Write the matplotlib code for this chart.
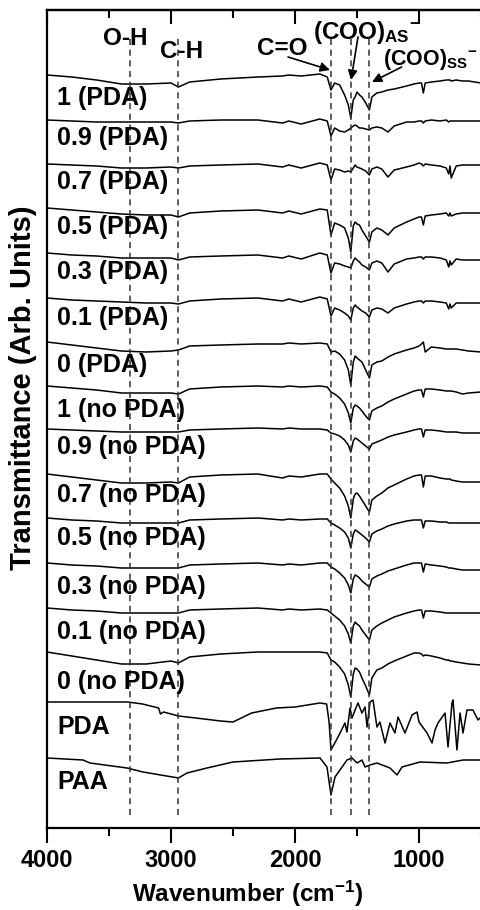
import numpy as np
import matplotlib
matplotlib.use('Agg')
import matplotlib.pyplot as plt
from matplotlib.ticker import MultipleLocator

plt.rcParams['font.family'] = ['Liberation Sans', 'DejaVu Sans']
plt.rcParams['font.weight'] = 'bold'
plt.rcParams['mathtext.fontset'] = 'custom'
plt.rcParams['mathtext.rm'] = 'Liberation Sans:bold'
plt.rcParams['mathtext.bf'] = 'Liberation Sans:bold'
plt.rcParams['mathtext.default'] = 'rm'

# shared wavenumber grid (cm-1) for the blend spectra
wn = [4000, 3800, 3600, 3400, 3200, 3000, 2940, 2850, 2600, 2300,
      2100, 2050, 1950, 1800, 1740, 1710, 1680, 1640, 1600, 1570,
      1550, 1530, 1515, 1500, 1480, 1460, 1430, 1400, 1380, 1340,
      1300, 1250, 1200, 1100, 1040, 1000, 980, 965, 950, 900,
      830, 780, 760, 750, 740, 700, 650, 600, 500]

# drop of each spectrum below its own start value (arb. units)
d_1_pda = [0, 2, 5, 9, 9, 8, 12, 7, 4, 2, 1, 0, 1, -1, 2, 15, 8, 10, 20, 30,
           43, 25, 22, 17, 20, 22, 28, 35, 22, 18, 17, 15, 14, 11, 9, 8, 8, 18, 8, 7,
           6, 5, 5, 5, 6, 5, 6, 6, 8]
d_09_pda = [0, 1, 2, 2, 2, 2, 3, 1, 0, 0, 3, 1, 4, -1, 1, 16, 8, 11, 12, 10,
            8, 6, 5, 6, 8, 8, 9, 10, 8, 7, 8, 12, 6, 2, 2, 1, 1, 3, 1, 0,
            1, 0, 2, 1, 1, 1, 1, 1, 1]
d_07_pda = [0, 1, 2, 4, 4, 3, 4, 2, 1, 0, 3, 1, 4, -1, 1, 16, 5, 6, 8, 7,
            8, 4, 1, 3, 4, 5, 7, 11, 5, 3, 5, 13, 6, 3, 1, -1, 0, 2, 0, 1,
            2, 4, 10, 2, 14, 2, 1, 1, 1]
d_05_pda = [0, 2, 4, 6, 7, 7, 9, 5, 3, 2, 5, 3, 6, 1, 2, 27, 15, 17, 20, 30,
            44, 18, 14, 16, 17, 22, 28, 34, 24, 20, 22, 27, 20, 14, 11, 9, 9, 17, 8, 7,
            6, 5, 8, 5, 8, 6, 5, 5, 5]
d_03_pda = [0, 2, 3, 5, 5, 5, 7, 4, 3, 2, 5, 3, 6, 0, 2, 20, 10, 11, 13, 14,
            15, 8, 5, 7, 9, 12, 14, 17, 10, 8, 10, 19, 11, 6, 5, 4, 4, 6, 4, 4,
            5, 7, 14, 8, 12, 6, 7, 7, 7]
d_01_pda = [0, 2, 3, 4, 5, 5, 6, 3, 1, 0, 3, 1, 4, -1, 1, 18, 10, 12, 15, 18,
            22, 10, 7, 9, 11, 13, 15, 19, 12, 10, 11, 15, 10, 6, 4, 3, 3, 5, 3, 3,
            4, 5, 11, 6, 10, 5, 5, 5, 5]
d_0_pda = [0, 3, 6, 9, 10, 9, 8, 4, 3, 2, 2, 1, 2, 1, 2, 10, 9, 12, 18, 28,
           43, 20, 14, 16, 18, 20, 28, 36, 23, 20, 19, 15, 12, 8, 6, 4, 2, 0, 10, 5,
           6, 7, 7, 7, 7, 7, 8, 9, 10]
d_1_no = [0, 2, 4, 7, 7, 7, 8, 3, 1, 0, 1, 0, 1, 0, 1, 6, 8, 12, 18, 27,
          37, 22, 19, 20, 22, 25, 30, 34, 25, 22, 20, 16, 13, 8, 5, 4, 4, 11, 3, 3,
          4, 5, 5, 5, 5, 6, 8, 7, 6]
d_09_no = [0, 1, 2, 3, 3, 3, 3, 1, 0, -1, 0, -1, 0, 0, 1, 4, 5, 7, 11, 16,
           23, 12, 9, 10, 12, 14, 17, 20, 15, 13, 11, 8, 6, 3, 1, 0, 0, 8, 1, 1,
           2, 3, 3, 3, 3, 3, 4, 4, 4]
d_07_no = [0, 3, 6, 9, 9, 8, 9, 3, 1, 0, 4, 2, 3, 0, 0, 5, 9, 14, 22, 32,
           44, 25, 20, 19, 22, 26, 32, 38, 26, 22, 19, 14, 11, 5, 2, 1, 1, 13, 2, 2,
           4, 5, 5, 5, 6, 7, 8, 8, 8]
d_05_no = [0, 2, 3, 5, 5, 5, 5, 2, 1, 0, 2, 1, 2, 1, 1, 5, 7, 10, 14, 20,
           30, 16, 12, 13, 15, 17, 20, 24, 16, 13, 11, 8, 6, 3, 2, 2, 2, 10, 3, 3,
           4, 4, 5, 5, 5, 5, 5, 5, 5]
d_03_no = [0, 2, 3, 5, 5, 5, 5, 2, 1, 0, 2, 1, 2, 0, 0, 4, 6, 10, 15, 22,
           30, 16, 12, 13, 15, 18, 21, 24, 16, 13, 11, 8, 6, 2, 0, 0, 0, 9, 1, 2,
           3, 4, 5, 5, 5, 6, 7, 7, 7]
d_01_no = [0, 2, 3, 5, 5, 5, 5, 2, 1, 0, 2, 1, 2, 1, 2, 5, 8, 12, 18, 26,
           35, 18, 14, 16, 18, 22, 27, 32, 22, 18, 15, 12, 9, 5, 3, 2, 2, 10, 3, 3,
           4, 5, 5, 5, 5, 5, 5, 5, 5]
d_0_no = [0, 4, 8, 12, 12, 9, 11, 5, 2, 0, 0, 0, 0, 0, 1, 8, 10, 15, 22, 33,
          45, 22, 16, 17, 20, 26, 34, 43, 26, 18, 16, 12, 9, 4, 1, 1, 2, 4, 3, 4,
          6, 8, 8, 9, 9, 10, 11, 12, 13]

# pure polymer spectra on their own grids
wn_pda = [4000, 3600, 3350, 3230, 3100, 3085, 3060, 2940, 2800, 2600,
          2500, 2350, 2150, 2000, 1800, 1745, 1725, 1710, 1653, 1597,
          1581, 1556, 1540, 1516, 1492, 1460, 1435, 1419, 1395, 1371,
          1339, 1315, 1274, 1234, 1194, 1169, 1113, 1056, 1016, 1000,
          935, 895, 871, 847, 790, 766, 734, 726, 694, 669,
          645, 613, 565, 524, 500]
d_pda = [0, 0, 0, 2, 6, 12, 10, 14, 16, 19,
         20, 11, 6, 5, 1, 2, 20, 48, 35, 21,
         30, 6, 16, 8, 1, 11, 5, 25, 0, -2,
         25, 20, 41, 21, 31, 15, 31, 13, 10, 20,
         31, 41, 28, 21, 11, 45, 1, -2, 48, 11,
         31, 8, 8, 18, 15]
wn_paa = [4000, 3710, 3653, 3355, 3226, 2940, 2871, 2710, 2500, 2121,
          1798, 1742, 1710, 1677, 1581, 1540, 1500, 1460, 1435, 1395,
          1339, 1234, 1177, 1137, 992, 774, 645, 500]
d_paa = [0, 2, 5, 10, 14, 20, 15, 10, 4, 1,
         0, 9, 37, 19, 2, 0, 5, 2, 9, 7,
         5, 10, 17, 9, 4, 5, 2, 2]

labels = ['1 (PDA)', '0.9 (PDA)', '0.7 (PDA)', '0.5 (PDA)', '0.3 (PDA)',
          '0.1 (PDA)', '0 (PDA)', '1 (no PDA)', '0.9 (no PDA)', '0.7 (no PDA)',
          '0.5 (no PDA)', '0.3 (no PDA)', '0.1 (no PDA)', '0 (no PDA)', 'PDA', 'PAA']
offsets = [753, 708, 664, 620, 575, 530, 486, 442, 399, 354, 310, 265, 220, 176, 126, 70]
label_y = [730, 690, 646, 601, 556, 510, 463, 418, 381, 333, 290, 241, 196, 146, 101, 46]

bands = [3330, 2940, 1710, 1550, 1400]

blends = [d_1_pda, d_09_pda, d_07_pda, d_05_pda, d_03_pda, d_01_pda, d_0_pda,
          d_1_no, d_09_no, d_07_no, d_05_no, d_03_no, d_01_no, d_0_no]
xs = [wn] * len(blends) + [wn_pda, wn_paa]
ds = blends + [d_pda, d_paa]

fig = plt.figure(figsize=(4.81, 9.10), dpi=100)
ax = fig.add_axes([47 / 481, 82 / 910, 434 / 481, 818 / 910])

for x, d, off in zip(xs, ds, offsets):
    ax.plot(x, off - np.array(d), color='black', lw=1.1)

for lab, y in zip(labels, label_y):
    ax.text(3920, y, lab, fontsize=18, fontweight='bold', ha='left', va='center')

ax.vlines(bands, 13, 790, colors='#333333', linestyles=(0, (4, 3)), lw=1.1)

# band labels and arrows
ax.text(3548, 783, 'O-H', fontsize=17.5, ha='left', va='baseline')
ax.text(3089, 770, 'C-H', fontsize=17.5, ha='left', va='baseline')
ax.text(2306, 773, 'C=O', fontsize=17.5, ha='left', va='baseline')
ax.text(1855, 789, r'(COO)$_{\mathrm{AS}}{}^{-}$', fontsize=17.5, ha='left', va='baseline')
ax.text(1292, 763, r'(COO)$_{\mathrm{SS}}{}^{-}$', fontsize=15.5, ha='left', va='baseline')
arrow = dict(arrowstyle='-|>', color='black', lw=1.2, mutation_scale=14,
             shrinkA=0, shrinkB=0)
ax.annotate('', xy=(1718, 758), xytext=(2056, 771), arrowprops=arrow)
ax.annotate('', xy=(1548, 748), xytext=(1492, 791), arrowprops=arrow)
ax.annotate('', xy=(1379, 746), xytext=(1140, 761), arrowprops=arrow)

ax.set_xlim(4000, 500)
ax.set_ylim(0, 818)
ax.set_yticks([])
ax.set_xticks([1000, 2000, 3000, 4000])
ax.xaxis.set_minor_locator(MultipleLocator(500))
ax.tick_params(axis='x', which='major', direction='out', length=11, width=1.5,
               labelsize=17, pad=4)
ax.tick_params(axis='x', which='minor', direction='out', length=6, width=1.5)
for lbl in ax.get_xticklabels():
    lbl.set_fontweight('bold')

top = ax.secondary_xaxis('top')
top.set_xticks([1000, 2000, 3000, 4000])
top.xaxis.set_minor_locator(MultipleLocator(500))
top.tick_params(axis='x', which='major', direction='in', length=10, width=1.5, labeltop=False)
top.tick_params(axis='x', which='minor', direction='in', length=6, width=1.5)
top.spines['top'].set_linewidth(1.6)

ax.spines['right'].set_visible(False)
for s in ['left', 'bottom', 'top']:
    ax.spines[s].set_linewidth(1.6)

ax.set_xlabel('Wavenumber (cm$^{-1}$)', fontsize=17.5, fontweight='bold')
ax.xaxis.set_label_coords(0.463, -0.062)
ax.set_ylabel('Transmittance (Arb. Units)', fontsize=21, fontweight='bold')
ax.yaxis.set_label_coords(-0.024, 0.538)

fig.savefig('out.png', dpi=100)
